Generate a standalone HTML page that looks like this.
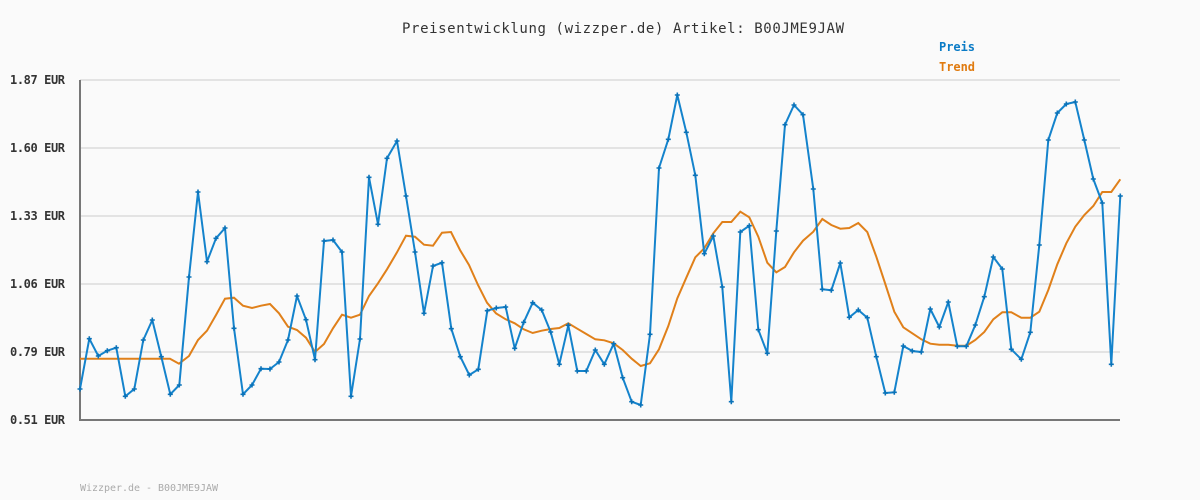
<!DOCTYPE html>
<html><head><meta charset="utf-8"><style>html,body{margin:0;padding:0;background:#fafafa}svg{display:block}</style></head>
<body>
<svg width="1200" height="500" xmlns="http://www.w3.org/2000/svg" font-family="'DejaVu Sans Mono','Liberation Mono',monospace">
<rect width="1200" height="500" fill="#fafafa"/>
<g stroke="#e3e3e3" stroke-width="2">
<line x1="80" y1="80" x2="1120" y2="80"/><line x1="80" y1="148" x2="1120" y2="148"/><line x1="80" y1="216" x2="1120" y2="216"/><line x1="80" y1="284" x2="1120" y2="284"/><line x1="80" y1="352" x2="1120" y2="352"/>
</g>
<line x1="80" y1="80" x2="80" y2="420" stroke="#777" stroke-width="2"/>
<line x1="79" y1="420" x2="1120" y2="420" stroke="#777" stroke-width="2"/>
<g font-size="12" font-weight="bold" fill="#333">
<text x="10" y="84" textLength="55">1.87 EUR</text>
<text x="10" y="152" textLength="55">1.60 EUR</text>
<text x="10" y="220" textLength="55">1.33 EUR</text>
<text x="10" y="288" textLength="55">1.06 EUR</text>
<text x="10" y="356" textLength="55">0.79 EUR</text>
<text x="10" y="424" textLength="55">0.51 EUR</text>
</g>
<text x="402" y="33" font-size="14" fill="#333" textLength="442">Preisentwicklung (wizzper.de) Artikel: B00JME9JAW</text>
<text x="939" y="51" font-size="12" font-weight="bold" fill="#0a7bc6" textLength="36">Preis</text>
<text x="939" y="71" font-size="12" font-weight="bold" fill="#e07b10" textLength="36">Trend</text>
<text x="80" y="491" font-size="10" fill="#aaa" textLength="138">Wizzper.de - B00JME9JAW</text>
<polyline fill="none" stroke="#e0801a" stroke-width="2" points="80,358.7 170,358.7 179,363.7 189,356 198,340 207,330.7 216,315 225,298.7 234,297.7 243,305.7 252,308 261,305.7 270,304 279,313.3 288,326.7 297,330 306,337.7 315,352 324,344 333,328.3 342,314.7 351,317.7 360,314.7 369,296 378,283.3 387,269.3 397,252.3 406,235.7 415,236.7 424,244.7 433,245.7 442,232.7 451,232 460,250 469,265 478,285 487,302.7 496,313.3 505.7,319.3 514.7,323.3 523.7,329.3 532.7,333 541.7,330.7 550.7,329 559.3,328 568.3,323.3 577.3,328.7 586.3,334 595.3,339.3 604.3,340.3 613.7,343.3 622.7,350 631.7,358.7 640.7,366 650,363.3 659,349.3 668.3,326 677.3,298.3 686.3,277.7 695.3,257.3 704.3,248.3 713.3,233.3 722.3,222 731.3,222 740.3,211.7 749.3,217.3 758.3,236.7 767.3,262.7 776.3,272.3 785,267 794,252.3 803,240.7 813.3,231.7 822.3,219 831.3,225 840.3,228.7 849.3,228 858.3,223 867.3,232 876.3,256.7 885.3,284 894.3,311.7 903.3,327.3 912.3,333.3 921.3,339.3 930.3,343.7 939.3,344.7 948.3,344.7 957.3,345.7 966.3,345.7 975.3,340 984.3,332 993.3,319.3 1002.3,312.3 1011.3,312.3 1021.3,317.7 1030.3,317.7 1039.3,311.7 1048.3,290 1057.3,264.3 1066.3,243.3 1075.3,226.7 1084.3,215 1093.3,206 1102.3,192 1111.3,192 1120.3,179.3"/>
<polyline id="p" fill="none" stroke="#1483cc" stroke-width="2" stroke-linejoin="round" points="80,389 89.3,338.7 98.3,356 107.3,350.7 116.3,347.7 125.3,396.3 134.3,389 143.3,340 152.3,320 161.3,356.7 170.3,394.3 179.3,385 189,277 198,192 207,261.7 216,238.3 225,228 234,328.3 243,394.3 252,385 261,368.7 270,369 279,362 288,340 297,296 306,319.7 315,359.7 324,241 333,240 342,252 351,396.3 360,339 369,177.3 378,224.3 387,158.3 397,141 406,196 415,252 424,313.3 433,266 442,262.7 451.3,328.7 460.3,356.7 469.3,375 478.3,369.3 487.3,310.7 496.3,308 505.7,307 514.7,348.3 523.7,322.3 532.7,302.7 541.7,310 550.7,332 559.3,364.3 568.3,325.3 577.3,371 586.3,371 595.3,350 604.3,364.3 613.7,343.7 622.7,377.7 631.7,401.7 640.7,405 650,334.3 659,168 668.3,139.3 677.3,95 686.3,132.3 695.3,175.3 704.3,253.7 713.3,236 722.3,287 731.3,401.7 740.3,232 749.3,225.7 758.3,329.7 767.3,353.3 776.3,231 785,124.7 794,105 803,114.7 813.3,189 822.3,289.3 831.3,290.3 840.3,263 849.3,317.3 858.3,310 867.3,317.7 876.3,356.7 885.3,393 894.3,392.3 903.3,346 912.3,351 921.3,352 930.3,309 939.3,327 948.3,302 957.3,346.3 966.3,346.3 975.3,325 984.3,296.7 993.3,257 1002.3,269 1011.3,349.3 1021.3,359.3 1030.3,332.3 1039.3,245 1048.3,140 1057.3,113 1066.3,104 1075.3,102 1084.3,140 1093.3,179 1102.3,203 1111.3,364.3 1120.3,196"/>
</svg>
<script>
(function(){var p=document.getElementById('p');var s=p.getAttribute('points').trim().split(/\s+/);var svg=p.ownerSVGElement;s.forEach(function(q){var a=q.split(',');var c=document.createElementNS('http://www.w3.org/2000/svg','path');var x=+a[0],y=+a[1];c.setAttribute('d','M'+(x-2.5)+' '+y+'H'+(x+2.5)+'M'+x+' '+(y-2.5)+'V'+(y+2.5));c.setAttribute('stroke','#0a72b8');c.setAttribute('stroke-width','1.6');svg.appendChild(c);});})();
</script>
</body></html>
